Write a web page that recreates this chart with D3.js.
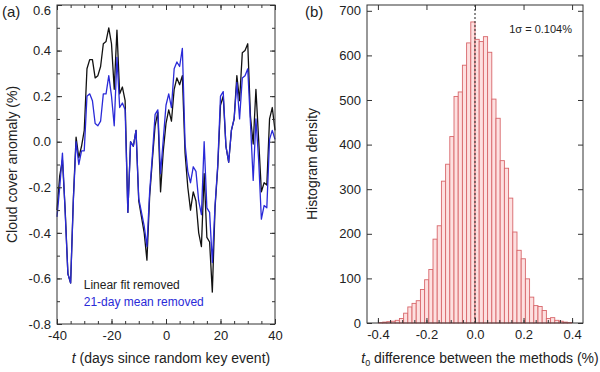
<!DOCTYPE html>
<html>
<head>
<meta charset="utf-8">
<script src="https://cdn.jsdelivr.net/npm/d3@7"></script>
<style>
  body { margin: 0; background: #fff; }
  text { font-family: "Liberation Sans", Arial, sans-serif; fill: #222; }
</style>
</head>
<body>
<script>
// ---- panel (a) data: daily anomaly, t = -40..40
const days = d3.range(-40, 41);
const linearFitRemoved = [
    -0.30, -0.15, -0.08, -0.30, -0.58, -0.62, -0.25, 0.02, -0.07, -0.02,
    0.05, 0.32, 0.36, 0.36, 0.28, 0.29, 0.33, 0.43, 0.44, 0.50,
    0.43, 0.23, 0.49, 0.21, 0.24, 0.18, -0.31, 0.00, -0.02, 0.05,
    -0.26, -0.33, -0.40, -0.52, -0.24, -0.08, 0.07, 0.13, -0.22, -0.04,
    0.08, 0.14, 0.09, 0.23, 0.28, 0.25, 0.29, -0.05, -0.20, -0.30,
    -0.22, -0.26, -0.40, -0.46, -0.14, -0.42, -0.44, -0.66, -0.29, -0.11,
    0.16, 0.20, -0.02, -0.09, 0.05, 0.10, 0.29, 0.18, 0.39, 0.40,
    0.43, 0.11, -0.01, 0.23, 0.01, -0.22, -0.18, -0.19, 0.10, 0.15,
    0.05
];
const meanRemoved = [
    -0.33, -0.20, -0.05, -0.31, -0.58, -0.62, -0.26, 0.00, -0.10, -0.04,
    -0.04, 0.20, 0.21, 0.18, 0.08, 0.07, 0.09, 0.21, 0.21, 0.29,
    0.20, 0.07, 0.37, 0.15, 0.17, 0.14, -0.31, 0.00, -0.02, 0.05,
    -0.25, -0.31, -0.37, -0.46, -0.22, -0.06, 0.12, 0.14, -0.14, 0.01,
    0.16, 0.21, 0.15, 0.32, 0.35, 0.33, 0.41, -0.01, -0.13, -0.18,
    -0.11, -0.13, -0.26, -0.32, 0.00, -0.29, -0.31, -0.53, -0.28, -0.10,
    0.20, 0.22, -0.02, -0.09, 0.05, 0.10, 0.26, 0.10, 0.28, 0.29,
    0.32, 0.08, -0.17, 0.10, -0.08, -0.34, -0.28, -0.29, 0.01, 0.05,
    0.01
];
const seriesNames = ['Linear fit removed', '21-day mean removed'];

// ---- panel (b) data: histogram of t0 differences
const binWidth = 0.0173;
const binStart = -23 * binWidth;
const binCounts = [
    1, 2, 3, 4, 6, 10, 22, 36, 44, 50, 75, 97, 120, 188, 218, 318, 356, 418, 508, 518, 578, 628, 675,
    636, 631, 642, 607, 502, 459, 364, 347, 280, 204, 163, 144, 99, 58, 39, 37, 28, 10, 12, 6, 4, 2, 1
];
const sigmaLabel = '1\u03c3 = 0.104%';

// ---- ticks
const aXTicks = [-40, -20, 0, 20, 40];
const aYTicks = [-0.8, -0.6, -0.4, -0.2, 0.0, 0.2, 0.4, 0.6];
const bXTicks = [-0.4, -0.2, 0.0, 0.2, 0.4];
const bYTicks = [0, 100, 200, 300, 400, 500, 600, 700];

const W = 600, H = 372;
const svg = d3.select('body').append('svg').attr('width', W).attr('height', H);

const blue = '#2a2ad8';
const frame = '#333';

const addAxes = (g, x, y, opt) => {
    const [x0, x1] = x.range();
    const [y0, y1] = y.range();
    // bottom
    g.append('g').attr('transform', `translate(0,${y0})`)
        .call(d3.axisBottom(x).tickValues(opt.xMinor).tickSize(-3).tickFormat(''));
    g.append('g').attr('transform', `translate(0,${y0})`)
        .call(d3.axisBottom(x).tickValues(opt.xMajor).tickSize(-5).tickPadding(7).tickFormat(opt.xFmt));
    // top
    g.append('g').attr('transform', `translate(0,${y1})`)
        .call(d3.axisTop(x).tickValues(opt.xTopMinor).tickSize(-3).tickFormat(''));
    g.append('g').attr('transform', `translate(0,${y1})`)
        .call(d3.axisTop(x).tickValues(opt.xMajor).tickSize(-5).tickFormat(''));
    // left
    g.append('g').attr('transform', `translate(${x0},0)`)
        .call(d3.axisLeft(y).tickValues(opt.yMinor).tickSize(-3).tickFormat(''));
    g.append('g').attr('class', 'yleft').attr('transform', `translate(${x0},0)`)
        .call(d3.axisLeft(y).tickValues(opt.yMajor).tickSize(-5).tickPadding(6).tickFormat(opt.yFmt));
    // right
    g.append('g').attr('transform', `translate(${x1},0)`)
        .call(d3.axisRight(y).tickValues(opt.yMinor).tickSize(-3).tickFormat(''));
    g.append('g').attr('transform', `translate(${x1},0)`)
        .call(d3.axisRight(y).tickValues(opt.yMajor).tickSize(-5).tickFormat(''));

    g.selectAll('.domain').remove();
    g.selectAll('.tick line').attr('stroke', frame);
    g.selectAll('.tick text').style('font-size', '13px').attr('fill', '#222')
        .style('font-family', '"Liberation Sans", Arial, sans-serif');

    g.append('rect')
        .attr('x', x0).attr('y', y1)
        .attr('width', x1 - x0).attr('height', y0 - y1)
        .attr('fill', 'none').attr('stroke', frame).attr('stroke-width', 1);
};

// ================= panel (a)
const ax = d3.scaleLinear().domain([-40, 40]).range([57, 275]);
const ay = d3.scaleLinear().domain([-0.8, 0.6]).range([324, 5]);
const ga = svg.append('g');

const line = d3.line().x((d, i) => ax(days[i])).y(d => ay(d));

ga.append('path').datum(linearFitRemoved)
    .attr('d', line).attr('fill', 'none')
    .attr('stroke', '#111').attr('stroke-width', 1.3).attr('stroke-linejoin', 'round');
ga.append('path').datum(meanRemoved)
    .attr('d', line).attr('fill', 'none')
    .attr('stroke', blue).attr('stroke-width', 1.3).attr('stroke-linejoin', 'round');

addAxes(ga, ax, ay, {
    xMajor: aXTicks,
    xMinor: d3.range(-40, 41, 5),
    xTopMinor: d3.range(-40, 41, 5),
    yMajor: aYTicks,
    yMinor: d3.range(-8, 7).map(v => v / 10),
    xFmt: d => String(d),
    yFmt: d => d.toFixed(1)
});
// top label sits just inside the picture
ga.select('.yleft').selectAll('.tick text').filter(d => d === 0.6)
    .attr('transform', 'translate(0,5)');

// legend
ga.append('text').attr('x', ax(-30.2)).attr('y', ay(-0.646))
    .style('font-size', '12px').attr('fill', '#111').text(seriesNames[0]);
ga.append('text').attr('x', ax(-30.2)).attr('y', ay(-0.721))
    .style('font-size', '12px').attr('fill', blue).style('fill', blue).text(seriesNames[1]);

// titles
svg.append('text').attr('x', 2).attr('y', 17).style('font-size', '15px').text('(a)');
svg.append('text')
    .attr('transform', `translate(17,${(ay.range()[0] + ay.range()[1]) / 2}) rotate(-90)`)
    .attr('text-anchor', 'middle').style('font-size', '14px')
    .text('Cloud cover anomaly (%)');
const atitle = svg.append('text').attr('x', 171).attr('y', 363)
    .attr('text-anchor', 'middle').style('font-size', '14px');
atitle.append('tspan').style('font-style', 'italic').text('t');
atitle.append('tspan').text(' (days since random key event)');

// ================= panel (b)
const bx = d3.scaleLinear().domain([-0.445, 0.445]).range([367, 583]);
const by = d3.scaleLinear().domain([0, 713]).range([323, 5]);
const gb = svg.append('g');

gb.selectAll('rect.bar')
    .data(binCounts)
    .join('rect')
    .attr('class', 'bar')
    .attr('x', (d, i) => bx(binStart + i * binWidth))
    .attr('width', (d, i) => bx(binStart + (i + 1) * binWidth) - bx(binStart + i * binWidth))
    .attr('y', d => by(d))
    .attr('height', d => by(0) - by(d))
    .attr('fill', '#fde0e0')
    .attr('stroke', '#d8676b')
    .attr('stroke-width', 0.9);

gb.append('line')
    .attr('x1', bx(0)).attr('x2', bx(0))
    .attr('y1', by(0)).attr('y2', by.range()[1])
    .attr('stroke', '#333').attr('stroke-width', 1.1).attr('stroke-dasharray', '2,2');

addAxes(gb, bx, by, {
    xMajor: bXTicks,
    xMinor: d3.range(-8, 9).map(v => v * 0.05),
    xTopMinor: [],
    yMajor: bYTicks,
    yMinor: [],
    xFmt: d => d.toFixed(1),
    yFmt: d => String(d)
});

gb.append('text').attr('x', 572).attr('y', 33)
    .attr('text-anchor', 'end').style('font-size', '11px').text(sigmaLabel);

svg.append('text').attr('x', 305).attr('y', 17).style('font-size', '15px').text('(b)');
svg.append('text')
    .attr('transform', `translate(317,${(by.range()[0] + by.range()[1]) / 2}) rotate(-90)`)
    .attr('text-anchor', 'middle').style('font-size', '14px')
    .text('Histogram density');
const btitle = svg.append('text').attr('x', 480).attr('y', 363)
    .attr('text-anchor', 'middle').style('font-size', '14px');
btitle.append('tspan').style('font-style', 'italic').text('t');
btitle.append('tspan').attr('dy', 3).style('font-size', '9px').text('0');
btitle.append('tspan').attr('dy', -3).text(' difference between the methods (%)');
</script>
</body>
</html>
